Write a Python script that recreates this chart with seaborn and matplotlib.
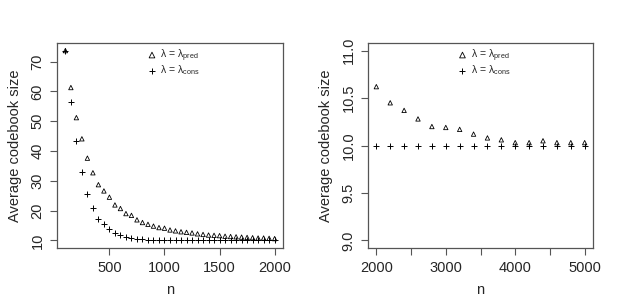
import matplotlib
matplotlib.use('Agg')
import matplotlib.pyplot as plt
import numpy as np
import pandas as pd
import seaborn as sns

# left panel: n = 100..2000 step 50
n_small = list(range(100, 2001, 50))
pred_small = [73.7, 61.3, 51.2, 44.1, 37.6, 32.7, 28.7, 26.6, 24.5, 21.9,
              20.7, 19.0, 18.4, 16.9, 16.0, 15.4, 14.8, 14.3, 14.1, 13.5,
              13.2, 12.9, 12.7, 12.5, 12.2, 12.0, 11.8, 11.7, 11.6, 11.4,
              11.3, 11.2, 11.1, 11.0, 10.9, 10.8, 10.8, 10.7, 10.6]
cons_small = [73.7, 56.4, 43.2, 33.0, 25.7, 21.0, 17.2, 15.4, 13.9, 12.6,
              11.7, 11.2, 10.9, 10.6, 10.4, 10.2, 10.1, 10.05, 10.0, 10.0,
              10.0, 10.0, 10.0, 10.0, 10.0, 10.0, 10.0, 10.0, 10.0, 10.0,
              10.0, 10.0, 10.0, 10.0, 10.0, 10.0, 10.0, 10.0, 10.0]

# right panel: n = 2000..5000 step 200
n_large = list(range(2000, 5001, 200))
pred_large = [10.62, 10.45, 10.37, 10.28, 10.20, 10.19, 10.17, 10.12,
              10.08, 10.06, 10.03, 10.03, 10.05, 10.03, 10.03, 10.03]
cons_large = [10.0] * 16

lab_pred = r'$\lambda\,=\,\lambda_{\mathrm{pred}}$'
lab_cons = r'$\lambda\,=\,\lambda_{\mathrm{cons}}$'

sns.set_style('ticks')
plt.rcParams['font.family'] = ['Liberation Sans', 'DejaVu Sans']
plt.rcParams['mathtext.fontset'] = 'custom'
plt.rcParams['mathtext.rm'] = 'Liberation Sans'
plt.rcParams['mathtext.it'] = 'Liberation Sans'

fig = plt.figure(figsize=(6.23, 3.0), dpi=100)
ax1 = fig.add_axes([57 / 623, 52 / 300, 226 / 623, 205 / 300])
ax2 = fig.add_axes([368 / 623, 52 / 300, 225 / 623, 205 / 300])


def draw(ax, n, pred, cons):
    df = pd.DataFrame({'n': n, 'pred': pred, 'cons': cons})
    sns.scatterplot(data=df, x='n', y='pred', ax=ax, marker='^', s=10,
                    facecolors='none', edgecolor='black', linewidth=0.6,
                    label=lab_pred)
    sns.scatterplot(data=df, x='n', y='cons', ax=ax, marker='+', s=14,
                    color='black', linewidth=0.7, label=lab_cons)
    for sp in ax.spines.values():
        sp.set_visible(True)
        sp.set_color('#555555')
        sp.set_linewidth(0.9)
    ax.tick_params(axis='both', labelsize=10.5, length=5, width=0.8,
                   color='#555555', direction='out', pad=4)
    ax.set_xlabel('n', fontsize=10.5, labelpad=6)
    ax.set_ylabel('Average codebook size', fontsize=10.5, labelpad=6)
    ax.legend(loc='upper center', bbox_to_anchor=(0.52, 1.0), frameon=False,
              fontsize=7.5, handlelength=0.6, handletextpad=0.5,
              labelspacing=0.0, borderaxespad=0.0, markerscale=1.3)


draw(ax1, n_small, pred_small, cons_small)
ax1.set_xlim(24, 2076)
ax1.set_ylim(7.45, 76.25)
ax1.set_xticks([500, 1000, 1500, 2000])
ax1.set_yticks([10, 20, 30, 40, 50, 60, 70])
ax1.set_yticklabels(['10', '20', '30', '40', '50', '60', '70'], rotation=90, va='center')

draw(ax2, n_large, pred_large, cons_large)
ax2.set_xlim(1880, 5120)
ax2.set_ylim(8.92, 11.08)
ax2.set_xticks([2000, 2500, 3000, 3500, 4000, 4500, 5000])
ax2.set_xticklabels(['2000', '', '3000', '', '4000', '', '5000'])
ax2.set_yticks([9.0, 9.5, 10.0, 10.5, 11.0])
ax2.set_yticklabels(['9.0', '9.5', '10.0', '10.5', '11.0'], rotation=90, va='center')

fig.savefig('out.png', dpi=100)
plt.close(fig)
